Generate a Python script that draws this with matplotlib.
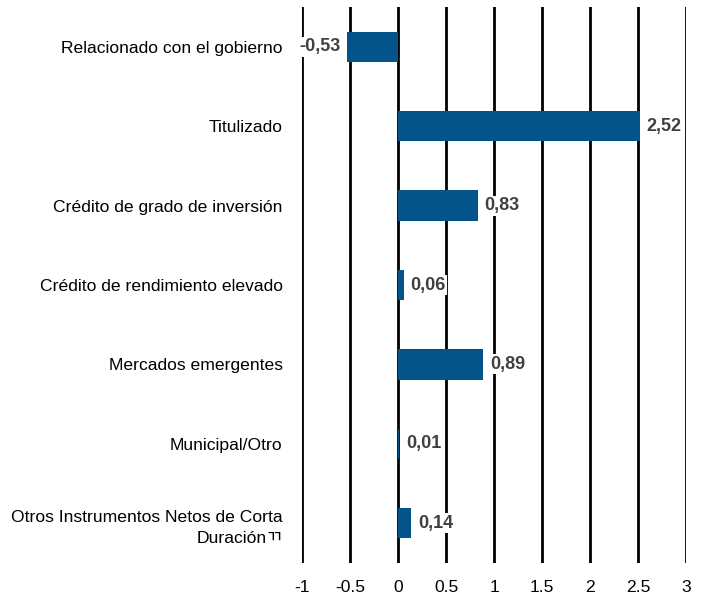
import matplotlib
matplotlib.use("Agg")
import matplotlib.pyplot as plt

categories = [
    "Relacionado con el gobierno",
    "Titulizado",
    "Crédito de grado de inversión",
    "Crédito de rendimiento elevado",
    "Mercados emergentes",
    "Municipal/Otro",
    "Otros Instrumentos Netos de Corta\nDuraciónㄲ",
]
values = [-0.53, 2.52, 0.83, 0.06, 0.89, 0.01, 0.14]
value_labels = ["-0,53", "2,52", "0,83", "0,06", "0,89", "0,01", "0,14"]
xticks = [-1, -0.5, 0, 0.5, 1, 1.5, 2, 2.5, 3]
xtick_labels = ["-1", "-0.5", "0", "0.5", "1", "1.5", "2", "2.5", "3"]

fam = ["Liberation Sans", "Noto Sans CJK KR"]
plt.rcParams["font.family"] = fam

fig = plt.figure(figsize=(7.13, 6.03), dpi=100)
ax = fig.add_axes([0.4236, 0.0663, 0.5385, 0.9221])

n = len(categories)
ypos = list(range(n))
ax.set_xlim(-1, 3)
ax.set_ylim(n - 0.5, -0.5)

for x in xticks:
    ax.axvline(x, color="black", lw=2, zorder=1)

ax.barh(ypos, values, height=0.38, color="#03548A", zorder=2)

for y, v, lab in zip(ypos, values, value_labels):
    off = -5 if v < 0 else 5
    ha = "right" if v < 0 else "left"
    ax.annotate(lab, (v, y), xytext=(off, 0), textcoords="offset points",
                ha=ha, va="center", fontsize=13, fontweight="bold",
                color="#404040", zorder=3,
                bbox=dict(facecolor="white", edgecolor="none", pad=1))

ax.set_yticks(ypos)
ax.set_yticklabels(categories, fontsize=12.6, color="black", linespacing=1.5)
ax.set_xticks(xticks)
ax.set_xticklabels(xtick_labels, fontsize=12.6, color="black")
ax.tick_params(axis="y", length=0, pad=14)
ax.tick_params(axis="x", length=0, pad=12)
for s in ax.spines.values():
    s.set_visible(False)

fig.savefig("out.png", dpi=100, facecolor="white")
